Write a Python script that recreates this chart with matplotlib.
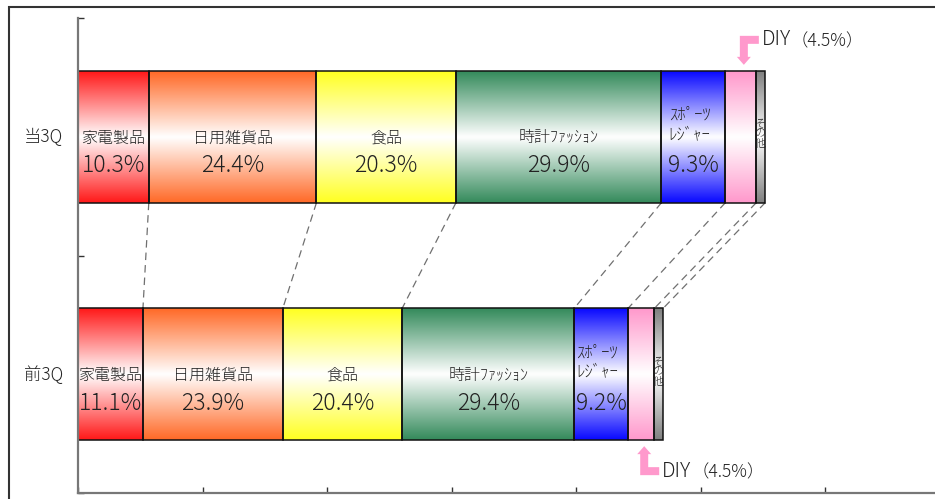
import numpy as np
import matplotlib
matplotlib.use("Agg")
import matplotlib.pyplot as plt
import matplotlib.transforms as mtransforms
from matplotlib.colors import to_rgb
from matplotlib.patches import Polygon, Rectangle

plt.rcParams["font.family"] = ["Noto Sans CJK JP", "DejaVu Sans"]
plt.rcParams["font.weight"] = "light"

# ── Data ─────────────────────────────────────────────────────────────────────
periods = ["当3Q", "前3Q"]
totals = [55.2, 47.0]          # bar length (one axis tick = 10)
categories = ["家電製品", "日用雑貨品", "食品", "時計ﾌｧｯｼｮﾝ",
              "ｽﾎﾟｰﾂ\nﾚｼﾞｬｰ", "DIY", "その他"]
share_cur = [10.3, 24.4, 20.3, 29.9, 9.3, 4.5, 1.3]
share_prev = [11.1, 23.9, 20.4, 29.4, 9.2, 4.5, 1.5]
shares = [share_cur, share_prev]

COLORS = ["#ff1a1a", "#ff6a28", "#ffff22", "#358b5c",
          "#0a0aff", "#ff99cc", "#808080"]
PINK = "#ff99cc"
TXT = "#222222"

Y_POS = [1.5, 0.5]
BAR_H = 0.555
PX_Y = 237.5                   # pixels per y unit


def gradient(color, n=80):
    """Vertical colour -> white -> colour strip."""
    t = np.linspace(0, 1, n)
    w = (1 - np.abs(2 * t - 1))[:, None]
    c = np.array(to_rgb(color))[None, :]
    return (c * (1 - w) + w)[:, None, :]


fig = plt.figure(figsize=(9.35, 4.99), dpi=100)
ax = fig.add_axes([78 / 935, 6 / 499, 871.5 / 935, 475 / 499])

# ── Stacked gradient bars ────────────────────────────────────────────────────
edges = []
for total, share, yc in zip(totals, shares, Y_POS):
    widths = np.array(share) / 100 * total
    lefts = np.concatenate([[0], np.cumsum(widths)[:-1]])
    edges.append(np.cumsum(widths))
    y0, y1 = yc - BAR_H / 2, yc + BAR_H / 2
    for i, (l, w) in enumerate(zip(lefts, widths)):
        ax.imshow(gradient(COLORS[i]), extent=[l, l + w, y0, y1],
                  aspect="auto", interpolation="bilinear", zorder=1)
        ax.add_patch(Rectangle((l, y0), w, BAR_H, fill=False,
                               ec="#111111", lw=1.1, zorder=2))
        xc = l + w / 2
        name = categories[i]
        if name == "DIY":
            continue
        if name == "その他":
            ax.text(xc, yc + 0.01, "そ\nの\n他", ha="center", va="center",
                    fontsize=8, linespacing=0.9, color=TXT, zorder=3)
            continue
        if "\n" in name:
            ax.text(xc - 0.3, yc + 0.05, name, ha="center", va="center",
                    fontsize=12, linespacing=1.15, color=TXT, zorder=3)
        else:
            ax.text(xc, yc - 0.005, name, ha="center", va="center",
                    fontsize=11.5, color=TXT, zorder=3)
        ax.text(xc, yc - 29 / PX_Y, f"{share[i]:.1f}%", ha="center",
                va="center", fontsize=16.5, color=TXT, zorder=3)

# dashed connectors between matching boundaries
top_bot = Y_POS[0] - BAR_H / 2
bot_top = Y_POS[1] + BAR_H / 2
for xt, xb in zip(edges[0], edges[1]):
    ax.plot([xt, xb], [top_bot, bot_top], color="#707070", lw=0.9,
            ls=(0, (6, 4)), zorder=1)

# period labels
lab_tr = mtransforms.blended_transform_factory(ax.transAxes, ax.transData)
for name, yc in zip(periods, Y_POS):
    ax.text(-0.040, yc, name, transform=lab_tr, ha="center", va="center",
            fontsize=12.5, color=TXT)

# ── DIY call-outs (L-shaped pink arrows) ─────────────────────────────────────
diy = categories.index("DIY")
arrow_px = np.array([(0, 6), (7, 14), (4, 14), (4, 27), (15, 27), (15, 35),
                     (-4, 35), (-4, 14), (-7, 14)], dtype=float)
for k, (total, share, yc) in enumerate(zip(totals, shares, Y_POS)):
    w = np.array(share) / 100 * total
    xd = np.cumsum(w)[diy] - w[diy] / 2
    sign = 1 if k == 0 else -1
    yd = yc + sign * BAR_H / 2
    verts = arrow_px.copy()
    verts[:, 0] += 3
    verts[:, 1] *= sign
    tr = mtransforms.Affine2D().scale(1 / 100) + fig.dpi_scale_trans + \
        mtransforms.ScaledTranslation(xd, yd, ax.transData)
    ax.add_patch(Polygon(verts, closed=True, fc=PINK, ec="none",
                         transform=tr, zorder=4, clip_on=False))
    t = ax.annotate("DIY", xy=(xd, yd), xytext=(21, sign * 31),
                    textcoords="offset pixels", ha="left", va="center",
                    fontsize=14.5, color=TXT)
    ax.annotate(f"（{share[diy]:.1f}%）", xy=(1, 0.42), xycoords=t,
                ha="left", va="center", fontsize=12.5, color=TXT)

# ── Axes styling ─────────────────────────────────────────────────────────────
ax.set_xlim(0, 70)
ax.set_ylim(0, 2)
ax.set_xticks(np.arange(0, 71, 10))
ax.set_yticks([0, 1, 2])
ax.tick_params(direction="in", length=4, width=1, colors="#333333",
               labelbottom=False, labelleft=False)
for side in ("top", "right"):
    ax.spines[side].set_visible(False)
for side in ("left", "bottom"):
    ax.spines[side].set_color("#777777")
    ax.spines[side].set_linewidth(1.6)

# outer frame
fig.patches.append(Rectangle((9 / 935, -0.1), 1.2, 1 - 7 / 499 + 0.1,
                             transform=fig.transFigure, fill=False,
                             ec="#333333", lw=1.5))

fig.savefig("out.png", dpi=100)
plt.close(fig)
